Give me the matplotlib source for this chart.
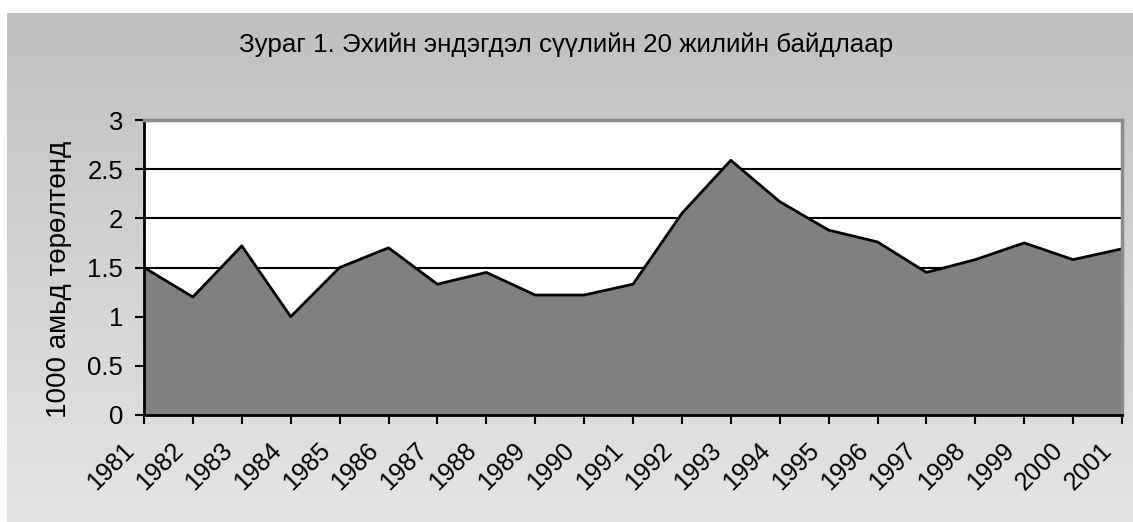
import numpy as np
import matplotlib.pyplot as plt
from matplotlib.transforms import ScaledTranslation
from matplotlib.colors import LinearSegmentedColormap

plt.rcParams['font.family'] = ['Liberation Sans', 'DejaVu Sans']

# data
years = [1981, 1982, 1983, 1984, 1985, 1986, 1987, 1988, 1989, 1990, 1991,
         1992, 1993, 1994, 1995, 1996, 1997, 1998, 1999, 2000, 2001]
rate = [1.5, 1.2, 1.72, 1.0, 1.5, 1.7, 1.33, 1.45, 1.22, 1.22, 1.33,
        2.05, 2.59, 2.17, 1.88, 1.76, 1.45, 1.58, 1.75, 1.58, 1.69]
yticks = [0, 0.5, 1, 1.5, 2, 2.5, 3]

title = 'Зураг 1. Эхийн эндэгдэл сүүлийн 20 жилийн байдлаар'
ylabel = '1000 амьд төрөлтөнд'

fig = plt.figure(figsize=(11.33, 5.22), dpi=100, facecolor='white')

# gray gradient background box
bg = fig.add_axes([7/1133, 0, 1 - 7/1133, 1 - 13/522], zorder=-5)
grad = np.linspace(0, 1, 256).reshape(-1, 1)
cmap = LinearSegmentedColormap.from_list('g', ['#c0c0c0', '#e5e5e5'])
bg.imshow(grad, aspect='auto', cmap=cmap, extent=[0, 1, 0, 1], origin='upper')
bg.axis('off')

ax = fig.add_axes([144/1133, 1 - 415/522, (1122 - 144)/1133, (415 - 120)/522])
ax.set_facecolor('white')

for y in yticks[1:]:
    ax.axhline(y, color='black', lw=1.5, zorder=1)

ax.fill_between(years, rate, 0, color='#808080', zorder=2)
ax.plot(years, rate, color='black', lw=2, zorder=3)

ax.set_xlim(years[0], years[-1])
ax.set_ylim(0, 3)
ax.set_yticks(yticks)
ax.set_yticklabels([('%g' % v) for v in yticks], fontsize=18.5)
ax.set_xticks(years)
ax.set_xticklabels([str(y) for y in years], rotation=45, ha='right', va='top',
                   rotation_mode='anchor', fontsize=18)
ax.tick_params(axis='both', direction='out', length=6.5, width=1.5, color='black')
ax.tick_params(axis='y', pad=8.5)
ax.tick_params(axis='x', pad=10)
shift = ScaledTranslation(-22/100, 0, fig.dpi_scale_trans)
for lab in ax.get_xticklabels():
    lab.set_transform(lab.get_transform() + shift)

for s in ['left', 'bottom']:
    ax.spines[s].set_color('black')
    ax.spines[s].set_linewidth(2)
for s in ['top', 'right']:
    ax.spines[s].set_color('#8c8c8c')
    ax.spines[s].set_linewidth(2.5)
for s in ax.spines.values():
    s.set_zorder(4)

ax.set_ylabel(ylabel, fontsize=20)
ax.yaxis.set_label_coords((72 - 144)/978, 0.46)
fig.text(566/1133, 1 - 45/522, title, ha='center', va='center', fontsize=18.7)

fig.savefig('out.png', dpi=100, facecolor='white')
